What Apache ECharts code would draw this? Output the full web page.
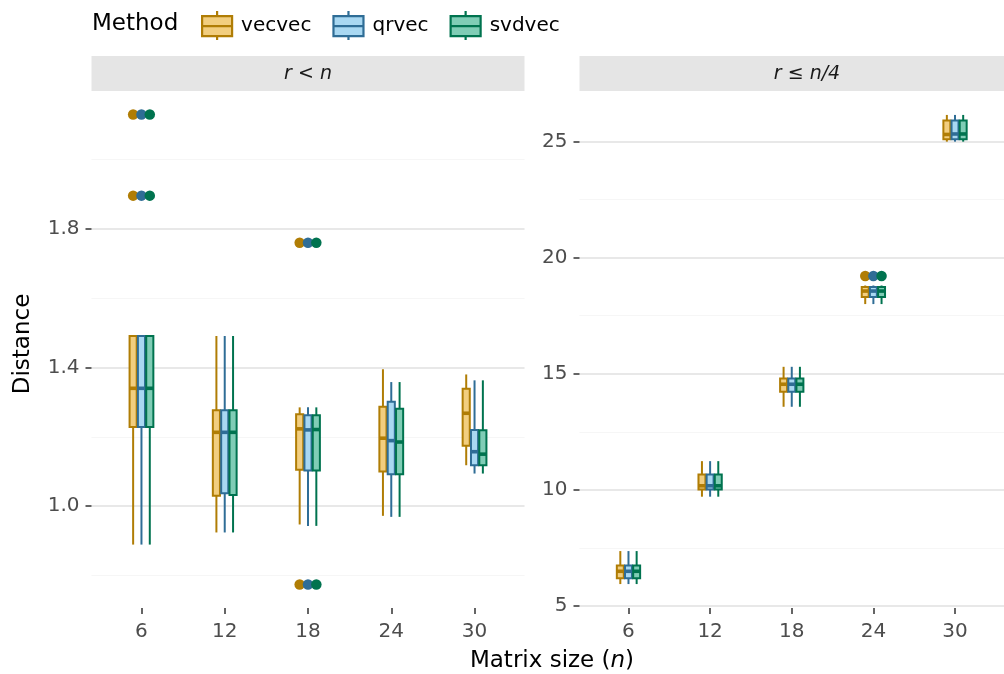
<!DOCTYPE html>
<html>
<head>
<meta charset="utf-8">
<script src="https://cdn.jsdelivr.net/npm/echarts@6/dist/echarts.min.js"></script>
<style>
html, body { margin: 0; padding: 0; background: #fff; }
#main { width: 1004px; height: 674px; }
</style>
</head>
<body>
<div id="main"></div>
<script>
let sizes = ['6', '12', '18', '24', '30'];
let methods = ['vecvec', 'qrvec', 'svdvec'];

// each row: [lower whisker, Q1, median, Q3, upper whisker] for n = 6..30
// panel r < n
let vecvecAll = [
    [0.889, 1.228, 1.340, 1.491, 1.491],
    [0.924, 1.030, 1.213, 1.277, 1.491],
    [0.947, 1.105, 1.223, 1.265, 1.285],
    [0.972, 1.100, 1.196, 1.287, 1.395],
    [1.118, 1.174, 1.268, 1.339, 1.380]
];
let qrvecAll = [
    [0.889, 1.228, 1.340, 1.491, 1.491],
    [0.924, 1.037, 1.213, 1.277, 1.491],
    [0.943, 1.103, 1.220, 1.262, 1.285],
    [0.969, 1.092, 1.189, 1.301, 1.358],
    [1.094, 1.118, 1.157, 1.220, 1.363]
];
let svdvecAll = [
    [0.889, 1.228, 1.340, 1.491, 1.491],
    [0.924, 1.032, 1.213, 1.277, 1.491],
    [0.943, 1.103, 1.221, 1.262, 1.285],
    [0.969, 1.092, 1.185, 1.281, 1.358],
    [1.094, 1.118, 1.150, 1.219, 1.363]
];
// [size index, value]
let outliersAll = [[1, 2.130], [1, 1.896], [3, 1.760], [3, 0.774]];

// panel r <= n/4
let vecvecQuarter = [
    [5.95, 6.20, 6.50, 6.75, 7.37],
    [9.71, 10.02, 10.18, 10.67, 11.24],
    [13.58, 14.23, 14.55, 14.80, 15.30],
    [18.00, 18.30, 18.56, 18.74, 18.80],
    [24.99, 25.09, 25.30, 25.90, 26.14]
];
let qrvecQuarter = [
    [5.95, 6.20, 6.50, 6.75, 7.37],
    [9.71, 10.02, 10.18, 10.67, 11.24],
    [13.58, 14.23, 14.55, 14.80, 15.30],
    [18.00, 18.30, 18.56, 18.74, 18.80],
    [24.99, 25.09, 25.32, 25.90, 26.14]
];
let svdvecQuarter = [
    [5.95, 6.20, 6.50, 6.75, 7.37],
    [9.71, 10.02, 10.18, 10.67, 11.24],
    [13.58, 14.23, 14.55, 14.80, 15.30],
    [18.00, 18.30, 18.56, 18.74, 18.80],
    [24.99, 25.09, 25.32, 25.90, 26.14]
];
let outliersQuarter = [[4, 19.21]];

let leftTicks = [1.0, 1.4, 1.8];
let leftMinor = [0.8, 1.2, 1.6, 2.0];
let rightTicks = [5, 10, 15, 20, 25];
let rightMinor = [7.5, 12.5, 17.5, 22.5];

let fills = ['#F2CE7F', '#A9D8F2', '#80CDB6'];
let borders = ['#B07D05', '#2F6D96', '#00734F'];
let font = 'DejaVu Sans';

function boxRender(slot) {
    return function (params, api) {
        let x = api.value(0);
        let w = api.size([1, 0])[0] * 0.1;
        let cx = api.coord([x, 0])[0] + (slot - 1) * w;
        let lo = api.coord([x, api.value(1)])[1];
        let q1 = api.coord([x, api.value(2)])[1];
        let md = api.coord([x, api.value(3)])[1];
        let q3 = api.coord([x, api.value(4)])[1];
        let hi = api.coord([x, api.value(5)])[1];
        let bw = w - 1.2;
        let line = { stroke: borders[slot], lineWidth: 2 };
        return {
            type: 'group',
            children: [
                { type: 'line', shape: { x1: cx, y1: hi, x2: cx, y2: q3 }, style: line },
                { type: 'line', shape: { x1: cx, y1: q1, x2: cx, y2: lo }, style: line },
                { type: 'rect', shape: { x: cx - bw / 2, y: q3, width: bw, height: q1 - q3 },
                  style: { fill: fills[slot], stroke: borders[slot], lineWidth: 2 } },
                { type: 'line', shape: { x1: cx - bw / 2, y1: md, x2: cx + bw / 2, y2: md },
                  style: { stroke: borders[slot], lineWidth: 3.6 } }
            ]
        };
    };
}

function xAxisFor(gridIndex) {
    return {
        type: 'value', gridIndex: gridIndex, min: 0.4, max: 5.6,
        axisLine: { show: false },
        axisTick: { show: true, customValues: [1, 2, 3, 4, 5], length: 6, lineStyle: { color: '#333', width: 1.5 } },
        axisLabel: { customValues: [1, 2, 3, 4, 5], formatter: v => sizes[Math.round(v) - 1],
            fontFamily: font, fontSize: 20, color: '#4D4D4D', margin: 14 },
        splitLine: { show: false }
    };
}

function yAxisFor(gridIndex, min, max, ticks, digits) {
    return {
        type: 'value', gridIndex: gridIndex, min: min, max: max,
        axisLine: { show: false },
        axisTick: { show: true, customValues: ticks, length: 6, lineStyle: { color: '#333', width: 1.5 } },
        axisLabel: { customValues: ticks, formatter: v => v.toFixed(digits),
            fontFamily: font, fontSize: 20, color: '#4D4D4D', margin: 12 },
        splitLine: { show: true, lineStyle: { color: '#E8E8E8', width: 2.2 } }
    };
}

function minorAxisFor(gridIndex, min, max, ticks) {
    return {
        type: 'value', gridIndex: gridIndex, min: min, max: max,
        axisLine: { show: false },
        axisTick: { show: false, customValues: ticks },
        axisLabel: { show: false, customValues: ticks },
        splitLine: { show: true, lineStyle: { color: '#F6F6F6', width: 1.1 } }
    };
}

let panels = [
    { x: 0, y: 0, boxes: [vecvecAll, qrvecAll, svdvecAll], out: outliersAll },
    { x: 1, y: 2, boxes: [vecvecQuarter, qrvecQuarter, svdvecQuarter], out: outliersQuarter }
];

let series = [];
panels.forEach(function (p) {
    methods.forEach(function (m, i) {
        series.push({
            name: m, type: 'custom', xAxisIndex: p.x, yAxisIndex: p.y,
            itemStyle: { color: fills[i], borderColor: borders[i] },
            encode: { x: 0, y: [1, 2, 3, 4, 5] },
            data: p.boxes[i].map((v, k) => [k + 1].concat(v)),
            renderItem: boxRender(i), z: 2
        });
    });
    methods.forEach(function (m, i) {
        series.push({
            name: m, type: 'scatter', xAxisIndex: p.x, yAxisIndex: p.y,
            symbol: 'circle', symbolSize: 10.5,
            itemStyle: { color: borders[i], opacity: 1 },
            data: p.out.map(o => [o[0] + (i - 1) * 0.1, o[1]]), z: 3
        });
    });
});

let boxIcon = 'path://M0,5H30V25H0ZM0,15H30M15,0V5M15,25V29';

let chart = echarts.init(document.getElementById('main'));
chart.setOption({
    animation: false,
    backgroundColor: '#fff',
    title: {
        text: 'Method', left: 92, top: 13, padding: 0,
        textStyle: { fontFamily: font, fontSize: 23, fontWeight: 'normal', color: '#000' }
    },
    legend: {
        left: 201, top: 10, padding: 0, itemWidth: 30, itemHeight: 29, itemGap: 21,
        selectedMode: false,
        textStyle: { fontFamily: font, fontSize: 20, color: '#000', padding: [0, 0, 0, 4] },
        data: methods.map((m, i) => ({
            name: m, icon: boxIcon,
            itemStyle: { color: fills[i], borderColor: borders[i], borderWidth: 2.2 }
        }))
    },
    grid: [
        { left: 91.5, top: 91, width: 433, height: 517 },
        { left: 579.5, top: 91, width: 433.5, height: 517 }
    ],
    xAxis: [xAxisFor(0), xAxisFor(1)],
    yAxis: [
        yAxisFor(0, 0.706, 2.198, leftTicks, 1),
        minorAxisFor(0, 0.706, 2.198, leftMinor),
        yAxisFor(1, 4.92, 27.17, rightTicks, 0),
        minorAxisFor(1, 4.92, 27.17, rightMinor)
    ],
    graphic: [
        { type: 'rect', shape: { x: 91.5, y: 56, width: 433, height: 35 }, style: { fill: '#E5E5E5' }, z: 0 },
        { type: 'rect', shape: { x: 579.5, y: 56, width: 433.5, height: 35 }, style: { fill: '#E5E5E5' }, z: 0 },
        { type: 'text', x: 308, y: 74, style: { text: 'r < n', font: 'italic 19px "DejaVu Sans"', fill: '#1A1A1A', align: 'center', verticalAlign: 'middle' }, z: 1 },
        { type: 'text', x: 807, y: 74, style: { text: 'r ≤ n/4', font: 'italic 19px "DejaVu Sans"', fill: '#1A1A1A', align: 'center', verticalAlign: 'middle' }, z: 1 },
        { type: 'text', x: 552, y: 661, style: { text: '{a|Matrix size (}{b|n}{a|)}', align: 'center', verticalAlign: 'middle',
            rich: { a: { fontFamily: font, fontSize: 23, color: '#000' }, b: { fontFamily: font, fontSize: 23, fontStyle: 'italic', color: '#000' } } }, z: 1 },
        { type: 'text', x: 23, y: 344, rotation: Math.PI / 2, style: { text: 'Distance', font: '23px "DejaVu Sans"', fill: '#000', align: 'center', verticalAlign: 'middle' }, z: 1 }
    ],
    series: series
});
</script>
</body>
</html>
